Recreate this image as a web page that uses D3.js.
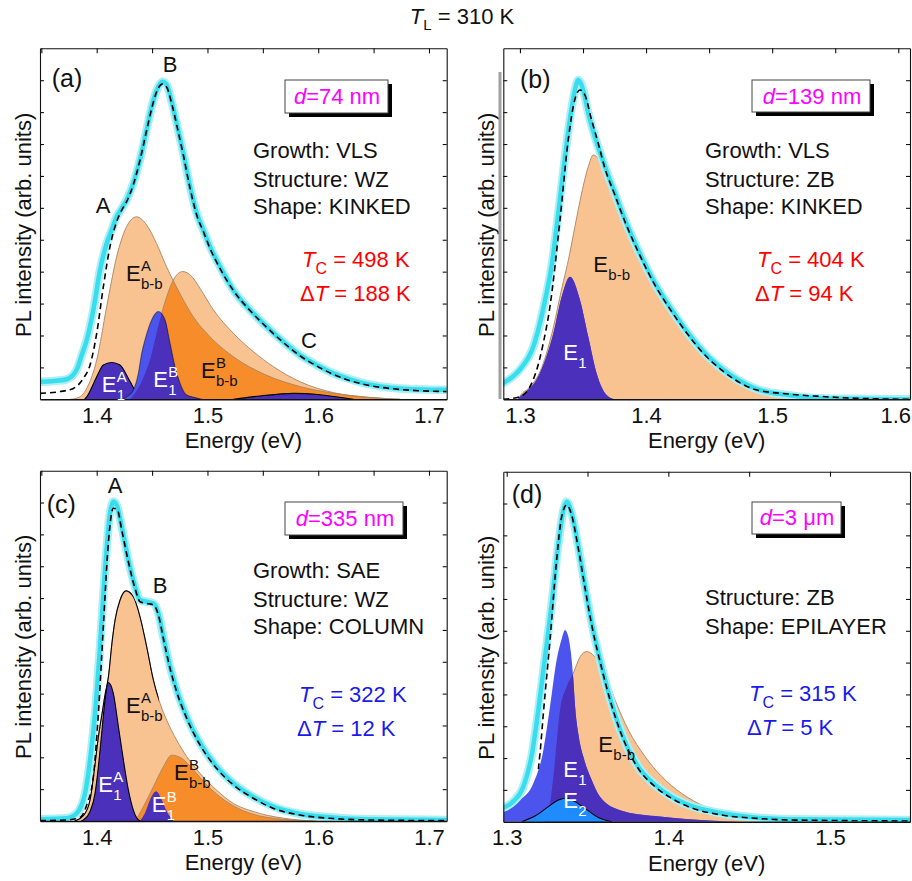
<!DOCTYPE html>
<html><head><meta charset="utf-8">
<script src="https://cdn.jsdelivr.net/npm/d3@7"></script>
<style>
body{margin:0;background:#fff}
svg{display:block}
text{font-family:"Liberation Sans",Arial,sans-serif}
</style>
</head><body>
<svg id="chart" width="912" height="881"></svg>
<script>
// ---------------- DATA (energy eV, intensity in % of frame height) ----------------
// Panel (a)
const aMeasured=[[1.3488,5.0],[1.3609,5.2],[1.3729,5.7],[1.3819,8.4],[1.3865,12.6],[1.391,16.9],[1.397,25.5],[1.403,36.8],[1.409,44.4],[1.4135,48.2],[1.418,52.0],[1.4226,54.4],[1.427,56.8],[1.433,61.5],[1.439,68.2],[1.445,76.7],[1.4497,83.4],[1.4542,88.1],[1.4593,90.5],[1.4632,89.6],[1.4677,84.8],[1.4722,78.6],[1.4782,70.1],[1.4843,60.6],[1.4903,53.0],[1.4963,48.2],[1.5023,43.5],[1.5113,37.8],[1.5234,31.1],[1.5384,25.5],[1.5535,20.7],[1.5685,16.4],[1.5836,12.6],[1.5986,9.8],[1.6137,7.4],[1.6287,5.7],[1.6438,4.4],[1.6739,3.1],[1.716,2.7]];
const aFit=[[1.3488,1.7],[1.3669,2.2],[1.3789,3.1],[1.388,6.0],[1.394,9.8],[1.4,18.8],[1.406,32.1],[1.412,43.5],[1.418,50.6],[1.4226,53.9],[1.427,56.3],[1.433,61.1],[1.439,68.0],[1.445,76.5],[1.4497,82.9],[1.4542,87.7],[1.4593,89.8],[1.4632,88.9],[1.4677,84.3],[1.4722,78.2],[1.4782,69.6],[1.4843,60.1],[1.4903,52.5],[1.4963,47.8],[1.5023,43.0],[1.5113,37.3],[1.5234,31.0],[1.5384,25.3],[1.5535,20.5],[1.5685,16.2],[1.5836,12.4],[1.5986,9.5],[1.6137,7.1],[1.6287,5.3],[1.6438,4.1],[1.6739,2.8],[1.716,2.2]];
const aEbbA=[[1.376,0],[1.382,0.3],[1.391,3.1],[1.4,11.2],[1.409,26.4],[1.418,40.6],[1.427,49.2],[1.436,52.0],[1.445,49.7],[1.454,44.4],[1.463,37.8],[1.475,30.2],[1.487,23.6],[1.502,17.9],[1.523,12.2],[1.553,6.9],[1.584,3.6],[1.614,1.7],[1.644,0.6],[1.674,0]];
const aEbbB=[[1.43,0],[1.439,4.1],[1.448,11.2],[1.457,22.6],[1.4632,29.2],[1.4692,34.0],[1.4776,36.4],[1.4858,35.0],[1.4933,31.6],[1.5053,25.5],[1.5234,18.8],[1.5414,13.6],[1.5595,9.3],[1.5836,5.0],[1.6137,1.9],[1.6438,0.6],[1.674,0]];
const aE1A=[[1.389,0],[1.391,0.7],[1.4,6.4],[1.406,9.8],[1.4135,10.5],[1.421,9.8],[1.4285,6.0],[1.4346,2.6],[1.4406,0.7],[1.444,0]];
const aE1B=[[1.424,0],[1.427,0.7],[1.433,2.6],[1.4376,7.4],[1.4406,13.1],[1.4436,16.9],[1.4496,22.6],[1.4556,25.0],[1.4617,22.6],[1.4662,16.0],[1.4707,9.3],[1.4752,4.6],[1.4812,1.2],[1.4887,0.5],[1.495,0]];
const aPeakC=[[1.5234,0],[1.5475,0.95],[1.5776,1.7],[1.6016,1.3],[1.6317,0]];

// Panel (b)
const bMeasured=[[1.2868,4.6],[1.3,8.5],[1.3106,15.0],[1.3198,28.0],[1.3251,38.0],[1.3304,53.0],[1.3357,69.0],[1.3397,80.0],[1.3436,88.1],[1.3463,91.0],[1.3502,88.1],[1.3542,81.5],[1.3595,74.8],[1.3674,66.3],[1.3753,58.7],[1.3833,51.1],[1.3938,42.5],[1.4071,33.0],[1.4203,25.5],[1.4335,18.8],[1.4467,13.1],[1.46,8.8],[1.4731,5.5],[1.4864,3.1],[1.5128,1.2],[1.5392,0.3],[1.6093,0]];
const bFit=[[1.2868,0],[1.3,0.7],[1.3132,8.3],[1.3185,16.0],[1.3238,26.4],[1.3317,50.9],[1.3383,73.9],[1.3436,85.5],[1.3476,88.1],[1.3515,86.7],[1.3568,79.6],[1.3621,72.9],[1.3674,65.8],[1.3753,58.2],[1.3833,50.6],[1.3938,42.0],[1.4071,32.5],[1.4203,25.0],[1.4335,18.3],[1.4467,12.6],[1.46,8.3],[1.4731,5.0],[1.4864,2.8],[1.5128,1.5],[1.5392,0.8],[1.566,0.3],[1.6093,0]];
const bEbb=[[1.2985,0],[1.3,0.9],[1.3093,4.0],[1.3172,9.0],[1.3265,20.5],[1.3331,31.5],[1.3383,39.5],[1.3436,49.2],[1.3489,58.7],[1.3542,66.3],[1.3582,69.6],[1.3648,67.2],[1.3727,61.5],[1.3806,53.9],[1.3938,43.5],[1.4071,34.0],[1.4203,26.4],[1.4335,19.8],[1.4467,14.1],[1.46,9.8],[1.4731,6.5],[1.4864,3.6],[1.4996,1.7],[1.526,0.3],[1.5392,0]];
const bE1=[[1.298,0],[1.3,0.7],[1.3159,7.5],[1.3265,18.8],[1.3331,29.2],[1.3397,34.9],[1.3476,28.3],[1.3542,17.8],[1.3608,7.4],[1.3687,1.2],[1.375,0]];

// Panel (c)
const cMeasured=[[1.3488,0.5],[1.3729,0.8],[1.3819,2.2],[1.3895,7.9],[1.394,17.4],[1.3985,30.7],[1.403,49.8],[1.4075,71.6],[1.412,87.8],[1.415,91.2],[1.418,90.2],[1.4226,84.0],[1.4286,74.5],[1.4346,66.9],[1.4391,63.1],[1.4451,62.6],[1.4512,62.1],[1.4557,59.3],[1.4602,52.6],[1.4662,44.1],[1.4722,37.4],[1.4813,29.8],[1.4933,22.2],[1.5083,15.5],[1.5234,10.8],[1.5414,6.9],[1.5595,4.1],[1.5836,2.0],[1.6137,1.0],[1.6438,0.5],[1.716,0.3]];
const cFit=[[1.3488,0.1],[1.3729,0.3],[1.385,1.0],[1.391,4.6],[1.397,12.7],[1.4015,30.7],[1.406,55.5],[1.4105,79.3],[1.415,89.3],[1.4187,88.8],[1.4226,83.1],[1.4286,74.0],[1.4346,66.4],[1.4391,62.6],[1.4451,62.1],[1.4512,61.7],[1.4557,58.8],[1.4602,52.1],[1.4662,43.6],[1.4722,36.9],[1.4813,29.3],[1.4933,21.7],[1.5083,15.0],[1.5234,10.3],[1.5414,6.5],[1.5595,3.6],[1.5836,1.7],[1.6137,0.7],[1.6438,0.3],[1.716,0.1]];
const cEbbA=[[1.38,0],[1.388,1.5],[1.394,6.0],[1.398,15.0],[1.4015,24.0],[1.4045,30.0],[1.4075,36.0],[1.4105,41.0],[1.4141,51.7],[1.4166,57.4],[1.4211,63.1],[1.4265,65.7],[1.4331,64.0],[1.4391,58.3],[1.4451,49.8],[1.4512,40.2],[1.4572,33.6],[1.4632,28.8],[1.4722,23.1],[1.4813,18.4],[1.4933,13.6],[1.5083,8.8],[1.5234,5.0],[1.5414,2.7],[1.5685,0.8],[1.5986,0]];
const cEbbB=[[1.433,0],[1.4361,0.8],[1.4421,4.1],[1.4512,9.8],[1.4602,15.5],[1.4677,18.8],[1.4767,17.9],[1.4873,14.6],[1.4993,10.3],[1.5174,5.5],[1.5384,2.2],[1.5685,0.5],[1.5986,0]];
const cE1A=[[1.386,0],[1.388,0.3],[1.394,2.7],[1.3985,7.9],[1.4015,15.5],[1.4045,25.0],[1.4075,34.5],[1.4105,39.5],[1.415,36.4],[1.4196,26.9],[1.4241,17.4],[1.4286,8.8],[1.4331,3.1],[1.4376,0.3],[1.44,0]];
const cE1B=[[1.4391,0],[1.4436,2.2],[1.4482,6.0],[1.4536,8.4],[1.4587,6.0],[1.4632,2.7],[1.4692,0]];

// Panel (d)
const dMeasured=[[1.2979,4.0],[1.3041,5.8],[1.3103,10.0],[1.3155,19.0],[1.3196,32.0],[1.3237,47.0],[1.3278,62.0],[1.332,79.5],[1.3351,89.0],[1.3371,91.4],[1.3402,88.1],[1.3443,78.6],[1.3485,67.1],[1.3526,56.7],[1.3588,44.3],[1.3649,33.8],[1.3711,25.2],[1.3814,15.7],[1.3918,10.5],[1.402,7.1],[1.4124,4.8],[1.433,2.4],[1.4536,1.2],[1.4742,0.7],[1.5495,0.5]];
const dFit=[[1.3196,15.0],[1.3206,19.5],[1.3227,31.0],[1.3268,51.9],[1.3309,74.8],[1.334,87.1],[1.3371,90.5],[1.3402,87.6],[1.3443,78.1],[1.3485,66.7],[1.3526,56.2],[1.3588,43.8],[1.3649,33.3],[1.3711,24.8],[1.3814,15.2],[1.3918,10.0],[1.402,6.7],[1.4124,4.3],[1.433,1.9],[1.4536,1.0],[1.4742,0.5],[1.5495,0.2]];
const dEbb=[[1.3237,0],[1.3258,2.4],[1.3289,12.9],[1.333,31.9],[1.3371,38.6],[1.3412,42.4],[1.3454,47.1],[1.3495,48.6],[1.3546,47.1],[1.3608,42.4],[1.367,34.8],[1.3753,26.2],[1.3856,18.6],[1.3959,12.9],[1.4082,8.1],[1.4227,4.3],[1.4433,1.6],[1.4639,0.5],[1.4845,0]];
const dE1=[[1.2979,3.8],[1.3082,6.2],[1.3165,11.0],[1.3227,20.5],[1.3268,32.9],[1.3309,46.2],[1.334,52.2],[1.3361,54.8],[1.3381,52.9],[1.3402,46.2],[1.3412,40.8],[1.3423,33.0],[1.3447,24.0],[1.3474,18.6],[1.3526,11.9],[1.3577,7.1],[1.3701,3.3],[1.3918,1.6],[1.4124,0.7],[1.4433,0]];
const dE2=[[1.3093,0],[1.3175,1.6],[1.3258,4.3],[1.332,6.2],[1.3361,6.7],[1.3412,6.0],[1.3485,3.8],[1.3567,1.2],[1.365,0]];

// Tick labels
const ticksAC=[1.4,1.5,1.6,1.7];
const ticksB=[1.3,1.4,1.5,1.6];
const ticksD=[1.3,1.4,1.5];

// ---------------- STYLE ----------------
const FONT='"Liberation Sans", Arial, sans-serif';
const COL={light:'#F9C291',dark:'#F78C2A',bright:'#4B55EE',indigo:'#4A30BA',e2:'#1E8CFF',
  cyanHalo:'#AEEFF5',cyanCore:'#38DDEE',red:'#FF0000',blue:'#1A1AEE',mag:'#FF00FF',edge:'#A88462'};

const svg=d3.select('#chart');
const defs=svg.append('defs');

const panels=[
 {id:'a',box:[40,48.3,446.7,399.3],dom:[1.3488,1.716],ticks:ticksAC,
  measured:aMeasured,fit:aFit,
  oranges:[{d:aEbbA},{d:aEbbB,over:0}],
  blues:[{d:aPeakC,color:COL.indigo,stroke:'#000'},{d:aE1A,base:0,stroke:'#000'},{d:aE1B,base:1,stroke:'rgba(0,0,0,0.45)'}]},
 {id:'b',box:[503.3,48.3,910,399.3],dom:[1.2868,1.6093],ticks:ticksB,
  measured:bMeasured,fit:bFit,
  oranges:[{d:bEbb}],
  blues:[{d:bE1,base:0}]},
 {id:'c',box:[40,470.7,446.7,821],dom:[1.3488,1.716],ticks:ticksAC,
  measured:cMeasured,fit:cFit,
  oranges:[{d:cEbbA,blackTo:1.456},{d:cEbbB,over:0}],
  blues:[{d:cE1A,base:0,stroke:'#000'},{d:cE1B,base:1}]},
 {id:'d',box:[503.3,471.7,910,821.7],dom:[1.2979,1.5495],ticks:ticksD,
  measured:dMeasured,fit:dFit,
  oranges:[{d:dEbb}],
  blues:[{d:dE1,base:0},{d:dE2,color:COL.e2,stroke:'#000'}]}
];

panels.forEach(p=>{
  const [x0,y0,x1,y1]=p.box;
  const x=d3.scaleLinear().domain(p.dom).range([x0,x1]);
  const y=d3.scaleLinear().domain([0,100]).range([y1,y0]);
  const g=svg.append('g');
  defs.append('clipPath').attr('id',`plot-${p.id}`).append('rect')
    .attr('x',x0).attr('y',y0-6).attr('width',x1-x0).attr('height',y1-y0+6);
  const pg=g.append('g').attr('clip-path',`url(#plot-${p.id})`);
  const area=d3.area().x(d=>x(d[0])).y0(y(0)).y1(d=>y(d[1])).curve(d3.curveMonotoneX);
  const line=d3.line().x(d=>x(d[0])).y(d=>y(d[1])).curve(d3.curveMonotoneX);
  p.oranges.forEach((o,i)=>{
    defs.append('clipPath').attr('id',`or-${p.id}-${i}`).append('path').attr('d',area(o.d));
  });
  p.oranges.forEach(o=>{
    pg.append('path').attr('d',area(o.d)).attr('fill',COL.light);
  });
  p.oranges.forEach(o=>{
    if(o.over!==undefined){
      pg.append('path').attr('d',area(o.d)).attr('fill',COL.dark)
        .attr('clip-path',`url(#or-${p.id}-${o.over})`);
    }
  });
  p.oranges.forEach((o,i)=>{
    pg.append('path').attr('d',line(o.d)).attr('fill','none').attr('stroke',COL.edge).attr('stroke-width',0.9);
    if(o.blackTo){
      const cid=`blk-${p.id}-${i}`;
      defs.append('clipPath').attr('id',cid).append('rect')
        .attr('x',x0).attr('y',y0).attr('width',x(o.blackTo)-x0).attr('height',y1-y0);
      pg.append('g').attr('clip-path',`url(#${cid})`).append('path').attr('d',line(o.d))
        .attr('fill','none').attr('stroke','#000').attr('stroke-width',1.1);
    }
  });
  p.blues.forEach(b=>{
    pg.append('path').attr('d',area(b.d)).attr('fill',b.color||COL.bright);
    if(b.base!==undefined){
      pg.append('path').attr('d',area(b.d)).attr('fill',COL.indigo)
        .attr('clip-path',`url(#or-${p.id}-${b.base})`);
    }
    if(b.stroke){
      pg.append('path').attr('d',line(b.d)).attr('fill','none').attr('stroke',b.stroke).attr('stroke-width',1.1);
    }
  });
  pg.append('path').attr('d',line(p.measured)).attr('fill','none').attr('stroke',COL.cyanHalo)
    .attr('stroke-width',8.5).attr('stroke-linejoin','round').attr('stroke-linecap','round');
  pg.append('path').attr('d',line(p.measured)).attr('fill','none').attr('stroke',COL.cyanCore)
    .attr('stroke-width',4.5).attr('stroke-linejoin','round').attr('stroke-linecap','round');
  pg.append('path').attr('d',line(p.fit)).attr('fill','none').attr('stroke','#000')
    .attr('stroke-width',1.6).attr('stroke-dasharray','6,4');

  const minor=d3.range(Math.ceil(p.dom[0]*20)/20,p.dom[1]+1e-9,0.05);
  const yt=d3.range(1,11).map(i=>i*100/11);
  const top=g.append('g').attr('transform',`translate(0,${y0})`)
    .call(d3.axisTop(x).tickValues(minor).tickSize(-5).tickSizeOuter(0).tickFormat(''));
  const left=g.append('g').attr('transform',`translate(${x0},0)`)
    .call(d3.axisLeft(y).tickValues(yt).tickSize(-4).tickSizeOuter(0).tickFormat(''));
  const right=g.append('g').attr('transform',`translate(${x1},0)`)
    .call(d3.axisRight(y).tickValues(yt).tickSize(-4).tickSizeOuter(0).tickFormat(''));
  [top,left,right].forEach(a=>a.selectAll('path,line').attr('stroke','#111').attr('stroke-width',1.1));
  const bottom=g.append('g').attr('transform',`translate(0,${y1})`)
    .call(d3.axisBottom(x).tickValues(p.ticks).tickSize(0).tickPadding(8).tickSizeOuter(0).tickFormat(d3.format('.1f')));
  bottom.select('.domain').attr('stroke','#111').attr('stroke-width',1.6);
  bottom.selectAll('text').attr('font-size',22).attr('font-family',FONT).attr('fill','#111')
    .each(function(){
      const bb=this.getBBox();
      const tr=this.parentNode.transform.baseVal.consolidate();
      const cx=tr?tr.matrix.e:0;
      const over=cx+bb.x+bb.width-911;
      if(over>0) d3.select(this).attr('dx',-over);
    });
  g.append('text').attr('x',(x0+x1)/2).attr('y',y1+49).attr('text-anchor','middle')
    .attr('font-size',22).attr('fill','#111').text('Energy (eV)');
  g.append('text').attr('transform',`translate(${x0-9},${(y0+y1)/2+1}) rotate(-90)`)
    .attr('text-anchor','middle').attr('font-size',22).attr('fill','#111').text('PL intensity (arb. units)');
});

// gray artifact line on panel (b) left
svg.append('rect').attr('x',498.5).attr('y',72).attr('width',3).attr('height',327).attr('fill','#a0a0a0');

// ---------------- TEXT HELPERS ----------------
function rich(x,yb,segs,opt={}){
  const t=svg.append('text').attr('x',x).attr('y',yb).attr('font-size',opt.size||22)
    .attr('fill',opt.fill||'#111').attr('text-anchor',opt.anchor||'start');
  let shift=0;
  segs.forEach(s=>{
    const ts=t.append('tspan').text(s.t);
    let want=0,size=opt.size||22;
    if(s.sub){want=s.sub;size=s.size||15;}
    ts.attr('dy',want-shift).attr('font-size',size);
    if(s.i) ts.attr('font-style','italic');
    shift=want;
  });
  return t;
}
function eLabel(x,yb,sup,sub,fill){
  svg.append('text').attr('x',x).attr('y',yb).attr('font-size',22).attr('fill',fill).text('E');
  if(sup) svg.append('text').attr('x',x+15).attr('y',yb-10).attr('font-size',15).attr('fill',fill).text(sup);
  if(sub) svg.append('text').attr('x',x+15).attr('y',yb+7.5).attr('font-size',15).attr('fill',fill).text(sub);
}
function dBox(x0,y0,x1,y1,cx,yb,val){
  svg.append('rect').attr('x',x0+4).attr('y',y0+4).attr('width',x1-x0).attr('height',y1-y0).attr('fill','#000');
  svg.append('rect').attr('x',x0).attr('y',y0).attr('width',x1-x0).attr('height',y1-y0)
    .attr('fill','#fff').attr('stroke','#444').attr('stroke-width',1);
  rich(cx,yb,[{t:'d',i:true},{t:val}],{fill:COL.mag,anchor:'middle'});
}
function plain(x,yb,s,opt={}){
  svg.append('text').attr('x',x).attr('y',yb).attr('font-size',opt.size||22)
    .attr('fill',opt.fill||'#111').attr('text-anchor',opt.anchor||'start').text(s);
}

rich(462,24,[{t:'T',i:true},{t:'L',sub:6,size:15},{t:' = 310 K'}],{anchor:'middle'});

plain(51.7,86.7,'(a)',{size:25});
plain(520,88,'(b)',{size:25});
plain(46.7,513,'(c)',{size:25});
plain(511.7,503,'(d)',{size:25});

plain(170,72,'B',{anchor:'middle'});
plain(103,213,'A',{anchor:'middle'});
plain(309,348,'C',{anchor:'middle'});
plain(115,493,'A',{anchor:'middle'});
plain(160,593,'B',{anchor:'middle'});

dBox(285,80,388,113,337,104,'=74 nm');
dBox(752,80,870,112,812,104,'=139 nm');
dBox(285,502,403,535,345,526,'=335 nm');
dBox(752,502,841,534,797,525,'=3 \u03BCm');

plain(253,158,'Growth: VLS');plain(253,186.5,'Structure: WZ');plain(253,214,'Shape: KINKED');
plain(705,158,'Growth: VLS');plain(705,186.5,'Structure: ZB');plain(705,214,'Shape: KINKED');
plain(253,578,'Growth: SAE');plain(253,606.5,'Structure: WZ');plain(253,633.5,'Shape: COLUMN');
plain(705,605,'Structure: ZB');plain(705,633.5,'Shape: EPILAYER');

function temps(x,yb,tc,dt,fill){
  rich(x+2,yb,[{t:'T',i:true},{t:'C',sub:7,size:16},{t:' = '+tc}],{fill});
  rich(x,yb+34,[{t:'\u0394'},{t:'T',i:true},{t:' = '+dt}],{fill});
}
temps(300,267,'498 K','188 K',COL.red);
temps(755,267,'404 K','94 K',COL.red);
temps(297,702,'322 K','12 K',COL.blue);
temps(747,701,'315 K','5 K',COL.blue);

eLabel(126,281,'A','b-b','#111');
eLabel(201,378,'B','b-b','#111');
eLabel(101.7,392,'A','1','#fff');
eLabel(153.3,387,'B','1','#fff');
eLabel(593.3,272,null,'b-b','#111');
eLabel(563.3,360,null,'1','#fff');
eLabel(126,713,'A','b-b','#111');
eLabel(174,780,'B','b-b','#111');
eLabel(98.3,792,'A','1','#fff');
eLabel(151.7,812,'B','1','#fff');
eLabel(598.3,752,null,'b-b','#111');
eLabel(563.3,777,null,'1','#fff');
eLabel(563.3,808,null,'2','#fff');
</script>
</body></html>
